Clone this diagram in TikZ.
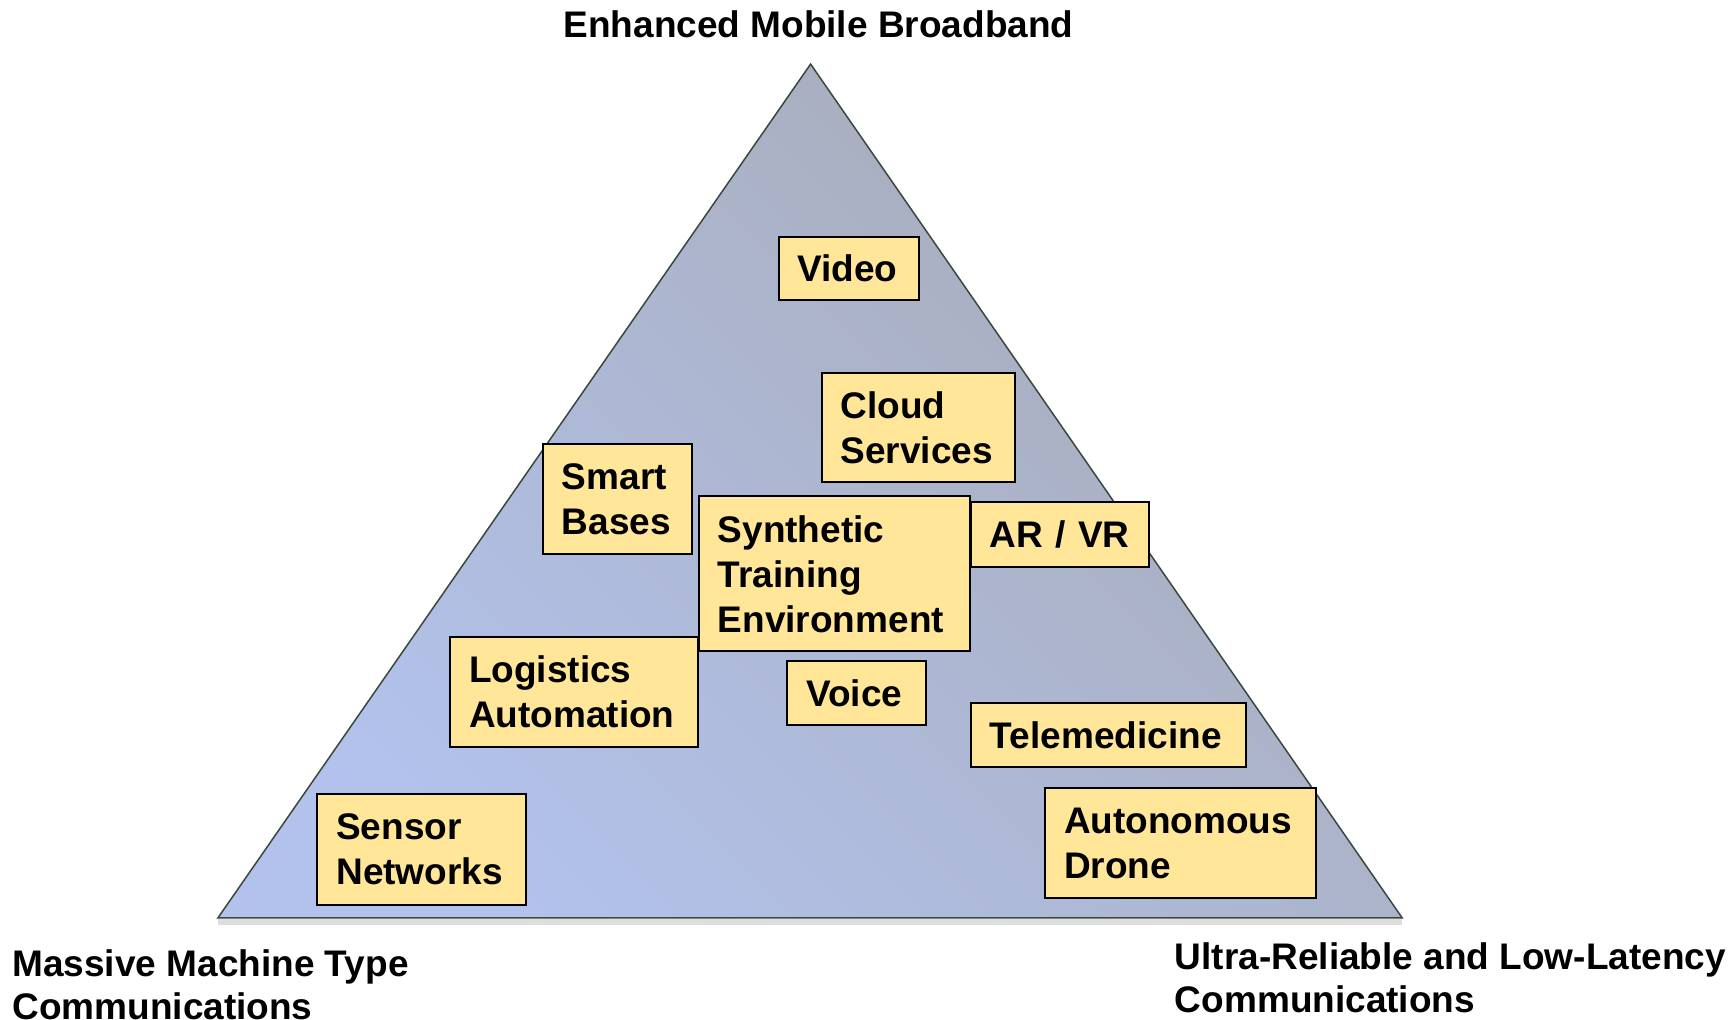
\documentclass[tikz,border=0pt]{standalone}
\usepackage{fontspec}
\setmainfont{Liberation Sans}
\usetikzlibrary{positioning}
\definecolor{noteyellow}{HTML}{FFE699}
\definecolor{triblue}{RGB}{178,194,236}
\definecolor{trigray}{RGB}{168,171,182}
\definecolor{triedge}{RGB}{58,72,60}
\tikzset{
  usecase/.style 2 args={draw=black, line width=1pt, fill=noteyellow, anchor=north west, align=left, font=\fontsize{18.5}{22.5}\selectfont\bfseries, inner xsep=9.5pt, inner ysep=0pt, text width=#1, minimum height=#2},
  usagelbl/.style={font=\fontsize{18.5}{21.6}\selectfont\bfseries, align=left, inner sep=0pt},
  tri/.style={draw=triedge, line width=0.75pt, top color=trigray, bottom color=triblue, shading angle=-45}
}

\begin{document}
\begin{tikzpicture}[x=0.5pt, y=-0.5pt]
    \useasboundingbox (0,0) rectangle (1734,1020);
    % triangle of usage scenarios
    \coordinate (apex) at (810.6,64.1);
    \coordinate (mmtc) at (217.9,917.9);
    \coordinate (urllc) at (1402.2,917.9);
    \draw[line width=3pt, black!13] ([yshift=-2pt]mmtc) -- ([yshift=-2pt]urllc);
    \draw[tri] (apex) -- (mmtc) -- (urllc) -- cycle;

    \node[usagelbl, anchor=base] (embblbl) at (818.5,38) {Enhanced Mobile Broadband};
    \node[usagelbl, anchor=north west] (mmtclbl) at (12,949) {Massive Machine Type\\Communications};
    \node[usagelbl, anchor=north west] (urllclbl) at (1174.5,942) {Ultra-Reliable and Low-Latency\\Communications};

    % use cases
    \node[usecase={51.2pt}{31.5pt}] (video) at (777.5,235.6) {Video};
    \node[usecase={77.8pt}{54.8pt}] (cloud) at (820.6,371.6) {Cloud\\Services};
    \node[usecase={55.7pt}{54.8pt}] (bases) at (541.9,443.5) {Smart\\Bases};
    \node[usecase={116.5pt}{77.5pt}] (ste) at (697.8,495.4) {Synthetic\\Training\\Environment};
    \node[usecase={70pt}{32.6pt}] (arvr) at (969.9,501.0) {AR / VR};
    \node[usecase={104.9pt}{54.8pt}] (logistics) at (449.0,635.9) {Logistics\\Automation};
    \node[usecase={50.1pt}{32.1pt}] (voice) at (786.3,660.2) {Voice};
    \node[usecase={118.7pt}{32.1pt}] (telemed) at (969.9,702.2) {Telemedicine};
    \node[usecase={116.5pt}{54.8pt}] (drone) at (1044.0,787.4) {Autonomous\\Drone};
    \node[usecase={85.5pt}{55.3pt}] (sensor) at (316.3,792.9) {Sensor\\Networks};
\end{tikzpicture}
\end{document}
